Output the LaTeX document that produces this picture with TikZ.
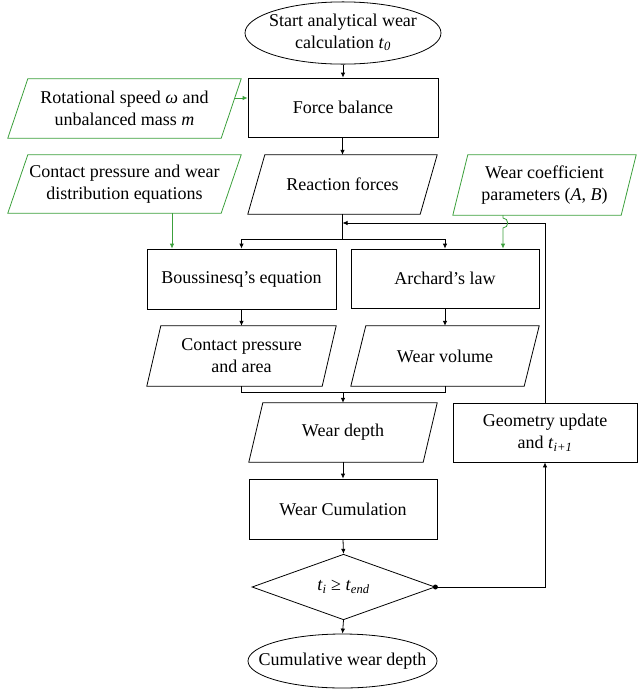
\documentclass[tikz,border=0pt]{standalone}
\usepackage{fontspec}
\setmainfont{Liberation Serif}
\usetikzlibrary{shapes.geometric,arrows.meta,calc}
\definecolor{ggreen}{RGB}{60,160,60}
\begin{document}
\begin{tikzpicture}[x=1pt,y=-1pt,
  every node/.style={font=\fontsize{18}{22}\selectfont, inner sep=0pt, align=center},
  boxnode/.style={rectangle, draw, line width=0.8pt},
  paranode/.style={rectangle},
  ellnode/.style={ellipse, draw, line width=0.8pt},
  decnode/.style={diamond, draw, line width=0.8pt},
  arr/.style={line width=0.8pt, -{Latex[length=5pt,width=4.5pt]}},
  plain/.style={line width=0.8pt},
  garr/.style={line width=0.8pt, draw=ggreen, -{Latex[length=5pt,width=4.5pt]}}
]
\useasboundingbox (0,0) rectangle (638,689);

% nodes
\node[ellnode, minimum width=196, minimum height=62] (start) at (343,33)
  {\makebox[0pt]{\begin{tabular}{@{}c@{}}Start analytical wear\\calculation \textit{t}\textsubscript{\textit{0}}\end{tabular}}};
\node[boxnode, minimum width=190, minimum height=59] (force) at (343,107.5) {Force balance};
\node[paranode, minimum width=233, minimum height=59] (rot) at (124.5,108.5)
  {Rotational speed \textit{ω} and\\unbalanced mass \textit{m}};
\node[paranode, minimum width=189, minimum height=59] (react) at (342.5,184.5) {Reaction forces};
\node[paranode, minimum width=233, minimum height=58] (cpe) at (124.5,184)
  {Contact pressure and wear\\distribution equations};
\node[paranode, minimum width=183, minimum height=60] (wc) at (544.5,185)
  {Wear coefficient\\parameters (\textit{A}, \textit{B})};
\node[boxnode, minimum width=189, minimum height=60] (bous) at (241.5,279) {Boussinesq’s equation};
\node[boxnode, minimum width=188, minimum height=59] (arch) at (445,278.5) {Archard’s law};
\node[paranode, minimum width=189, minimum height=60] (cpa) at (241.5,356) {Contact pressure\\and area};
\node[paranode, minimum width=188, minimum height=60] (wv) at (445,356) {Wear volume};
\node[paranode, minimum width=188, minimum height=59] (wd) at (343,432.5) {Wear depth};
\node[boxnode, minimum width=184, minimum height=59] (geo) at (545,432.5)
  {Geometry update\\and \textit{t}\textsubscript{\textit{i+1}}};
\node[boxnode, minimum width=188, minimum height=60] (cum) at (343,509) {Wear Cumulation};
\node[decnode, minimum width=183, minimum height=60] (dia) at (343.5,587)
  {\textit{t}\textsubscript{\textit{i}} ≥ \textit{t}\textsubscript{\textit{end}}};
\node[ellnode, minimum width=189, minimum height=54] (stop) at (342.5,661)
  {\makebox[0pt]{Cumulative wear depth}};

% parallelogram outlines
\foreach \n/\s/\c in {react/17/black, cpa/14/black, wv/15/black, wd/14/black,
                      rot/20/ggreen, cpe/20/ggreen, wc/15/ggreen}
  \draw[line width=0.8pt, draw=\c] ([xshift=\s pt]\n.north west) -- (\n.north east)
    -- ([xshift=-\s pt]\n.south east) -- (\n.south west) -- cycle;

% helper coordinates
\coordinate (split) at (342.5,239);
\coordinate (fb) at (547,223);
\coordinate (merge) at (343,392);

% main flow
\draw[arr] (start.south) -- (force.north);
\draw[arr] (force.south) -- (react.south |- force.south) -- (react.north);
\draw[plain] (react.south) -- (split);
\draw[arr] (split) -| (bous.north);
\draw[arr] (split) -| (arch.north);
\draw[arr] (bous.south) -- (cpa.north);
\draw[arr] (arch.south) -- (wv.north);
\draw[plain] (cpa.south) |- (wv.south |- merge) -- (wv.south);
\draw[arr] (merge) -- (wd.north);
\draw[arr] (wd.south) -- (cum.north);
\draw[arr] (cum.south) -- (dia.north);
\draw[arr] (dia.south) -- (stop.north);

% loop back
\draw[arr] (dia.east) -| (geo.south);
\fill (dia.east) circle (2.5);
\draw[arr] (geo.north) -- (geo.north |- fb) -- (react.south |- fb);

% green inputs
\coordinate (rotout) at ([xshift=-7pt,yshift=10.5pt]rot.east);
\draw[garr] (rotout) -- (rotout -| force.west);
\coordinate (gx1) at ([xshift=47.5pt]cpe.south);
\draw[garr] (gx1) -- (gx1 |- bous.north);
\coordinate (gx2) at ([xshift=-41.5pt]wc.south);
\draw[garr] (gx2) -- ($(gx2 |- fb)+(0,-5)$) to[out=0,in=0,looseness=1.6] ($(gx2 |- fb)+(0,5)$) -- (gx2 |- arch.north);
\end{tikzpicture}
\end{document}
